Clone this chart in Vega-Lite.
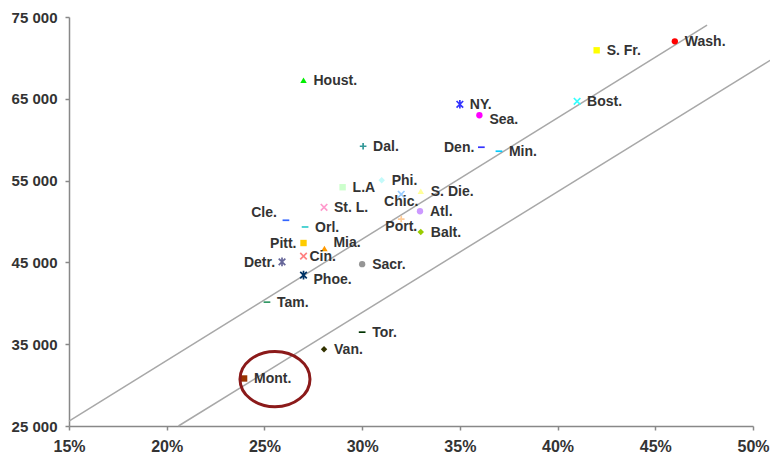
{
  "$schema": "https://vega.github.io/schema/vega-lite/v6.json",
  "width": 684,
  "height": 409,
  "autosize": {"type": "none"},
  "padding": {"left": 69, "top": 17, "right": 17, "bottom": 31},
  "background": "white",
  "config": {
    "view": {"stroke": null},
    "font": "Liberation Sans",
    "axis": {"grid": false, "domainColor": "#888888", "domainWidth": 1.5, "tickColor": "#888888", "tickWidth": 1.5, "tickSize": 4, "labelFont": "Liberation Sans", "labelFontWeight": "bold", "labelColor": "#333333", "title": null}
  },
  "datasets": {
    "cities": [
      {"city": "Wash.", "share": 0.46, "income": 72030, "marker": "circle", "side": "r"},
      {"city": "S. Fr.", "share": 0.42, "income": 70930, "marker": "square", "side": "r"},
      {"city": "Bost.", "share": 0.41, "income": 64700, "marker": "x", "side": "r"},
      {"city": "Houst.", "share": 0.27, "income": 67260, "marker": "triangle", "side": "r"},
      {"city": "NY.", "share": 0.35, "income": 64330, "marker": "asterisk", "side": "r"},
      {"city": "Sea.", "share": 0.36, "income": 62990, "marker": "circle", "side": "rd"},
      {"city": "Dal.", "share": 0.3005, "income": 59200, "marker": "plus", "side": "r"},
      {"city": "Den.", "share": 0.361, "income": 59080, "marker": "dash", "side": "l"},
      {"city": "Min.", "share": 0.37, "income": 58590, "marker": "dash", "side": "r"},
      {"city": "L.A", "share": 0.29, "income": 54190, "marker": "square", "side": "r"},
      {"city": "Phi.", "share": 0.31, "income": 55040, "marker": "diamond", "side": "r"},
      {"city": "S. Die.", "share": 0.33, "income": 53700, "marker": "triangle", "side": "r"},
      {"city": "Chic.", "share": 0.32, "income": 53330, "marker": "x", "side": "b"},
      {"city": "St. L.", "share": 0.2805, "income": 51740, "marker": "x", "side": "r"},
      {"city": "Atl.", "share": 0.3296, "income": 51250, "marker": "circle", "side": "r"},
      {"city": "Cle.", "share": 0.261, "income": 50150, "marker": "dash", "side": "lu"},
      {"city": "Orl.", "share": 0.2708, "income": 49330, "marker": "dash", "side": "r"},
      {"city": "Port.", "share": 0.32, "income": 50300, "marker": "plus", "side": "b"},
      {"city": "Balt.", "share": 0.33, "income": 48710, "marker": "diamond", "side": "r"},
      {"city": "Pitt.", "share": 0.27, "income": 47370, "marker": "square", "side": "l"},
      {"city": "Mia.", "share": 0.2807, "income": 46700, "marker": "triangle", "side": "ru"},
      {"city": "Cin.", "share": 0.27, "income": 45760, "marker": "x", "side": "rc"},
      {"city": "Detr.", "share": 0.259, "income": 45060, "marker": "asterisk", "side": "l"},
      {"city": "Sacr.", "share": 0.30, "income": 44780, "marker": "circle", "side": "r"},
      {"city": "Phoe.", "share": 0.27, "income": 43440, "marker": "asterisk", "side": "rd"},
      {"city": "Tam.", "share": 0.2513, "income": 40140, "marker": "dash", "side": "r"},
      {"city": "Tor.", "share": 0.30, "income": 36470, "marker": "dash", "side": "r"},
      {"city": "Van.", "share": 0.2805, "income": 34390, "marker": "diamond", "side": "r"},
      {"city": "Mont.", "share": 0.2396, "income": 30810, "marker": "square", "side": "r"}
    ],
    "lines": [
      {"line": "upper", "share": 0.15, "income": 25590},
      {"line": "upper", "share": 0.4765, "income": 74020},
      {"line": "lower", "share": 0.206, "income": 25000},
      {"line": "lower", "share": 0.5088, "income": 69710}
    ],
    "highlight": [
      {"city": "Mont.", "share": 0.2554, "income": 30730}
    ]
  },
  "encoding": {
    "x": {"field": "share", "type": "quantitative", "scale": {"domain": [0.15, 0.5], "nice": false, "zero": false},
      "axis": {"values": [0.15, 0.2, 0.25, 0.3, 0.35, 0.4, 0.45, 0.5], "format": ".0%", "labelFontSize": 16, "labelPadding": 8, "labelFlush": false}},
    "y": {"field": "income", "type": "quantitative", "scale": {"domain": [25000, 75000], "nice": false, "zero": false},
      "axis": {"values": [25000, 35000, 45000, 55000, 65000, 75000], "labelExpr": "replace(format(datum.value, ','), ',', ' ')", "labelFontSize": 15, "labelPadding": 8, "labelFlush": false}}
  },
  "layer": [
    {
      "data": {"name": "lines"},
      "mark": {"type": "line", "color": "#A8A8A8", "strokeWidth": 1.5, "clip": false},
      "encoding": {"detail": {"field": "line", "type": "nominal"}}
    },
    {
      "data": {"name": "cities"},
      "transform": [{"filter": "indexof(['circle','square','triangle','diamond'], datum.marker) >= 0"}],
      "mark": {"type": "point", "filled": true, "opacity": 1},
      "encoding": {
        "shape": {"field": "marker", "type": "nominal", "legend": null,
          "scale": {"domain": ["circle", "square", "triangle", "diamond", "x", "asterisk", "plus", "dash"], "range": ["circle", "square", "triangle-up", "diamond", "M-1,-1L1,1M-1,1L1,-1", "M-1,-1L1,1M-1,1L1,-1M0,-1.3L0,1.3", "M-1,0L1,0M0,-1L0,1", "M-1,0L1,0"]}},
        "size": {"field": "marker", "type": "nominal", "legend": null,
          "scale": {"domain": ["circle", "square", "triangle", "diamond", "x", "asterisk", "plus", "dash"], "range": [40, 45, 55, 55, 42, 42, 64, 64]}},
        "color": {"field": "city", "type": "nominal", "legend": null, "scale": {
          "domain": ["Wash.", "S. Fr.", "Bost.", "Houst.", "NY.", "Sea.", "Dal.", "Den.", "Min.", "L.A", "Phi.", "S. Die.", "Chic.", "St. L.", "Atl.", "Cle.", "Orl.", "Port.", "Balt.", "Pitt.", "Mia.", "Cin.", "Detr.", "Sacr.", "Phoe.", "Tam.", "Tor.", "Van.", "Mont."],
          "range": ["#FF0000", "#FFFF00", "#33FFFF", "#00EE00", "#3333FF", "#FF00FF", "#339999", "#3333FF", "#00CCFF", "#CCFFCC", "#C4FAFA", "#FFFF99", "#99CCFF", "#FF99CC", "#CC99FF", "#3366FF", "#33CCCC", "#FFCC99", "#99CC00", "#FFCC00", "#FF9900", "#FF8080", "#666699", "#969696", "#003366", "#339966", "#003300", "#333300", "#993300"]}}
      }
    },
    {
      "data": {"name": "cities"},
      "transform": [{"filter": "indexof(['x','asterisk','plus','dash'], datum.marker) >= 0"}],
      "mark": {"type": "point", "filled": false, "strokeWidth": 1.7, "opacity": 1},
      "encoding": {
        "shape": {"field": "marker", "type": "nominal", "legend": null,
          "scale": {"domain": ["circle", "square", "triangle", "diamond", "x", "asterisk", "plus", "dash"], "range": ["circle", "square", "triangle-up", "diamond", "M-1,-1L1,1M-1,1L1,-1", "M-1,-1L1,1M-1,1L1,-1M0,-1.3L0,1.3", "M-1,0L1,0M0,-1L0,1", "M-1,0L1,0"]}},
        "size": {"field": "marker", "type": "nominal", "legend": null,
          "scale": {"domain": ["circle", "square", "triangle", "diamond", "x", "asterisk", "plus", "dash"], "range": [40, 45, 55, 55, 42, 42, 64, 64]}},
        "color": {"field": "city", "type": "nominal", "legend": null, "scale": {
          "domain": ["Wash.", "S. Fr.", "Bost.", "Houst.", "NY.", "Sea.", "Dal.", "Den.", "Min.", "L.A", "Phi.", "S. Die.", "Chic.", "St. L.", "Atl.", "Cle.", "Orl.", "Port.", "Balt.", "Pitt.", "Mia.", "Cin.", "Detr.", "Sacr.", "Phoe.", "Tam.", "Tor.", "Van.", "Mont."],
          "range": ["#FF0000", "#FFFF00", "#33FFFF", "#00EE00", "#3333FF", "#FF00FF", "#339999", "#3333FF", "#00CCFF", "#CCFFCC", "#C4FAFA", "#FFFF99", "#99CCFF", "#FF99CC", "#CC99FF", "#3366FF", "#33CCCC", "#FFCC99", "#99CC00", "#FFCC00", "#FF9900", "#FF8080", "#666699", "#969696", "#003366", "#339966", "#003300", "#333300", "#993300"]}}
      }
    },
    {
      "data": {"name": "cities"},
      "transform": [{"filter": "datum.side == 'r'"}],
      "mark": {"type": "text", "align": "left", "baseline": "middle", "dx": 10, "dy": 1, "fontSize": 14, "fontWeight": "bold", "color": "#333333"},
      "encoding": {"text": {"field": "city"}}
    },
    {
      "data": {"name": "cities"},
      "transform": [{"filter": "datum.side == 'rd'"}],
      "mark": {"type": "text", "align": "left", "baseline": "middle", "dx": 10, "dy": 5, "fontSize": 14, "fontWeight": "bold", "color": "#333333"},
      "encoding": {"text": {"field": "city"}}
    },
    {
      "data": {"name": "cities"},
      "transform": [{"filter": "datum.side == 'ru'"}],
      "mark": {"type": "text", "align": "left", "baseline": "middle", "dx": 9, "dy": -5, "fontSize": 14, "fontWeight": "bold", "color": "#333333"},
      "encoding": {"text": {"field": "city"}}
    },
    {
      "data": {"name": "cities"},
      "transform": [{"filter": "datum.side == 'rc'"}],
      "mark": {"type": "text", "align": "left", "baseline": "middle", "dx": 6, "dy": 1, "fontSize": 14, "fontWeight": "bold", "color": "#333333"},
      "encoding": {"text": {"field": "city"}}
    },
    {
      "data": {"name": "cities"},
      "transform": [{"filter": "datum.side == 'l'"}],
      "mark": {"type": "text", "align": "right", "baseline": "middle", "dx": -7, "dy": 1, "fontSize": 14, "fontWeight": "bold", "color": "#333333"},
      "encoding": {"text": {"field": "city"}}
    },
    {
      "data": {"name": "cities"},
      "transform": [{"filter": "datum.side == 'lu'"}],
      "mark": {"type": "text", "align": "right", "baseline": "middle", "dx": -9, "dy": -7, "fontSize": 14, "fontWeight": "bold", "color": "#333333"},
      "encoding": {"text": {"field": "city"}}
    },
    {
      "data": {"name": "cities"},
      "transform": [{"filter": "datum.side == 'b'"}],
      "mark": {"type": "text", "align": "center", "baseline": "middle", "dx": 0, "dy": 8, "fontSize": 14, "fontWeight": "bold", "color": "#333333"},
      "encoding": {"text": {"field": "city"}}
    },
    {
      "data": {"name": "highlight"},
      "mark": {"type": "point", "filled": false, "shape": "M-1,0A1,0.79 0 1,1 1,0A1,0.79 0 1,1 -1,0Z", "size": 4900, "color": "#8B1A1A", "strokeWidth": 3, "opacity": 1}
    }
  ]
}
